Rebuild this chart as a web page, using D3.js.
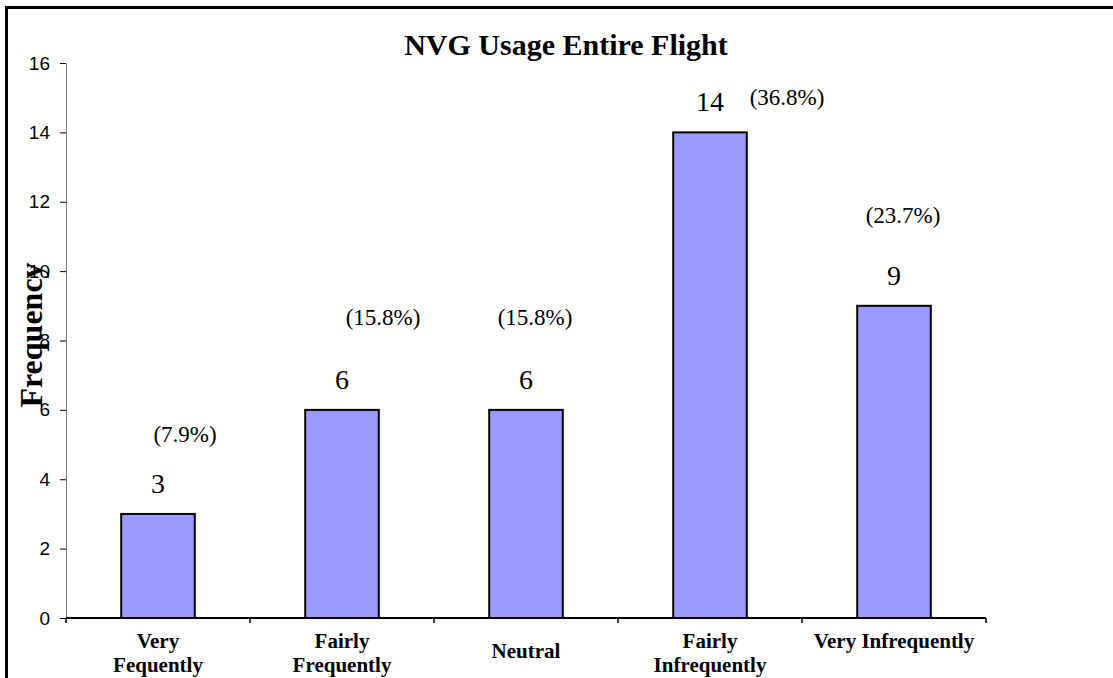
<!DOCTYPE html>
<html>
<head>
<meta charset="utf-8">
<title>NVG Usage Entire Flight</title>
<script src="https://cdn.jsdelivr.net/npm/d3@7"></script>
<style>
  body { margin: 0; background: #fff; }
  svg { display: block; }
</style>
</head>
<body>
<svg id="diagram" width="1113" height="678"></svg>
<script>
// Daten
var kategorien = ["Very Fequently", "Fairly Frequently", "Neutral", "Fairly Infrequently", "Very Infrequently"];
var kategorieZeilen = [["Very", "Fequently"], ["Fairly", "Frequently"], ["Neutral"], ["Fairly", "Infrequently"], ["Very Infrequently"]];
var haeufigkeit = [3, 6, 6, 14, 9];
var prozente = ["(7.9%)", "(15.8%)", "(15.8%)", "(36.8%)", "(23.7%)"];
var yTicks = [0, 2, 4, 6, 8, 10, 12, 14, 16];

// Layout (Lage der Prozent-Beschriftungen, von Hand verschoben wie im Original)
var prozentVersatz = [[27, -72], [41, -85], [9, -85], [77, -27], [9, -83]];
var zeilenStart = [648, 648, 658, 648, 648];

var svg = d3.select("#diagram");
var serif = "'Liberation Serif', 'Times New Roman', serif";
var sans = "'Liberation Sans', Arial, sans-serif";

// rahmen
svg.append("rect")
    .attr("x", 6.5).attr("y", 7.5)
    .attr("width", 1300).attr("height", 900)
    .attr("fill", "none")
    .attr("stroke", "#000")
    .attr("stroke-width", 3);

var links = 66, rechts = 986, oben = 63, unten = 618;

var xScale = d3.scaleBand().domain(kategorien).range([links, rechts]).padding(0);
var yScale = d3.scaleLinear().domain([0, 16]).range([unten, oben]);
var balkenBreite = xScale.bandwidth() * 0.4;

// titel
svg.append("text")
    .attr("x", 566).attr("y", 55)
    .attr("text-anchor", "middle")
    .style("font-family", serif)
    .style("font-weight", "bold")
    .style("font-size", "30px")
    .text("NVG Usage Entire Flight");

// Y-Achse
var yAchse = svg.append("g")
    .attr("transform", "translate(" + links + ",0)")
    .call(d3.axisLeft(yScale).tickValues(yTicks).tickSize(6).tickPadding(10).tickSizeOuter(0));
yAchse.select(".domain").attr("stroke", "#777");
yAchse.selectAll(".tick line").attr("stroke", "#000");
yAchse.selectAll(".tick text")
    .style("font-family", sans)
    .style("font-size", "19px")
    .attr("fill", "#000");

// balken
svg.selectAll(".bar")
    .data(haeufigkeit)
    .enter().append("rect")
    .attr("class", "bar")
    .attr("x", function (d, i) { return xScale(kategorien[i]) + (xScale.bandwidth() - balkenBreite) / 2; })
    .attr("y", function (d) { return yScale(d); })
    .attr("width", balkenBreite)
    .attr("height", function (d) { return unten - yScale(d); })
    .attr("fill", "#9999ff")
    .attr("stroke", "#000")
    .attr("stroke-width", 2);

// X-Achse
var xAchse = svg.append("g")
    .attr("transform", "translate(0," + unten + ")");
xAchse.append("line")
    .attr("x1", links).attr("x2", rechts)
    .attr("stroke", "#000").attr("stroke-width", 2);
xAchse.selectAll(".xtick")
    .data(d3.range(kategorien.length + 1))
    .enter().append("line")
    .attr("class", "xtick")
    .attr("x1", function (i) { return links + i * xScale.step(); })
    .attr("x2", function (i) { return links + i * xScale.step(); })
    .attr("y1", 0).attr("y2", 5)
    .attr("stroke", "#000").attr("stroke-width", 1.5);

// kategorie beschriftung
kategorieZeilen.forEach(function (zeilen, i) {
    var t = svg.append("text")
        .attr("text-anchor", "middle")
        .style("font-family", serif)
        .style("font-weight", "bold")
        .style("font-size", "21px");
    zeilen.forEach(function (z, j) {
        t.append("tspan")
            .attr("x", xScale(kategorien[i]) + xScale.bandwidth() / 2)
            .attr("y", zeilenStart[i] + j * 24)
            .text(z);
    });
});

// werte
svg.selectAll(".wert")
    .data(haeufigkeit)
    .enter().append("text")
    .attr("class", "wert")
    .attr("x", function (d, i) { return xScale(kategorien[i]) + xScale.bandwidth() / 2; })
    .attr("y", function (d) { return yScale(d) - 21; })
    .attr("text-anchor", "middle")
    .style("font-family", serif)
    .style("font-size", "28px")
    .text(function (d) { return d; });

// prozente
svg.selectAll(".prozent")
    .data(prozente)
    .enter().append("text")
    .attr("class", "prozent")
    .attr("x", function (d, i) { return xScale(kategorien[i]) + xScale.bandwidth() / 2 + prozentVersatz[i][0]; })
    .attr("y", function (d, i) { return yScale(haeufigkeit[i]) + prozentVersatz[i][1]; })
    .attr("text-anchor", "middle")
    .style("font-family", serif)
    .style("font-size", "23px")
    .text(function (d) { return d; });

// Y-Achsen titel
svg.append("text")
    .attr("transform", "translate(42,335) rotate(-90)")
    .attr("text-anchor", "middle")
    .style("font-family", serif)
    .style("font-weight", "bold")
    .style("font-size", "32px")
    .text("Frequency");
</script>
</body>
</html>
